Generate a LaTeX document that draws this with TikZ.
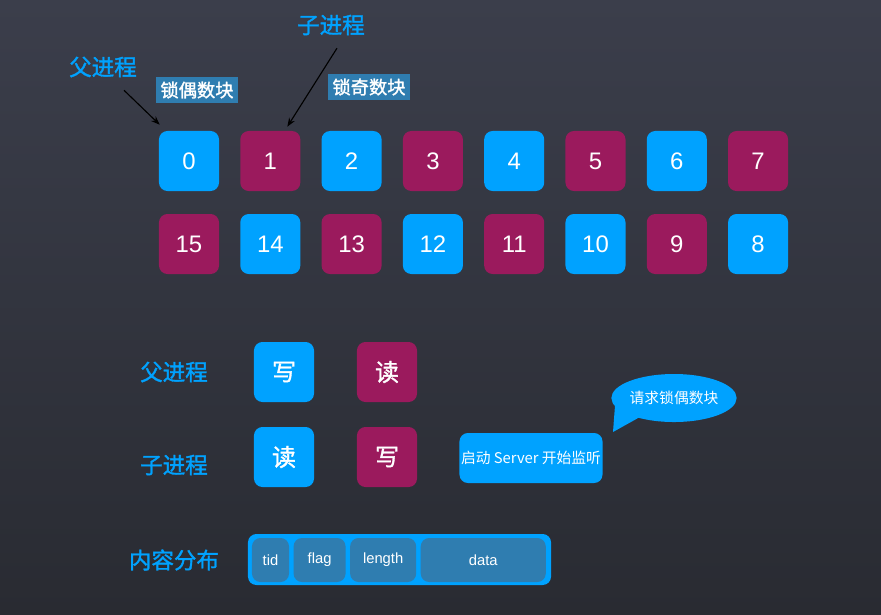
\documentclass[tikz,border=0pt]{standalone}
\usepackage{fontspec}
\setmainfont{Liberation Sans}
\newfontfamily\cjk[AutoFakeBold=1.4]{Noto Sans CJK SC}
\usetikzlibrary{arrows.meta, positioning, shapes.geometric}
\definecolor{evenblue}{RGB}{0,162,255}
\definecolor{oddplum}{RGB}{155,26,93}
\definecolor{tagblue}{RGB}{47,125,176}
\definecolor{bgtop}{RGB}{59,62,75}
\definecolor{bgbottom}{RGB}{41,43,50}

\begin{document}
\begin{tikzpicture}[
		x=0.025cm, y=-0.025cm,
		node distance=0.1cm,
		block/.style={text=white, rounded corners=6pt, inner sep=0pt,
			minimum width=1.5cm, minimum height=1.5cm, font=\fontsize{17}{20}\selectfont},
		even/.style={block, fill=evenblue},
		odd/.style={block, fill=oddplum},
		hanzi/.style={font=\cjk\bfseries\fontsize{17}{20}\selectfont},
		who/.style={text=evenblue, font=\cjk\bfseries\fontsize{16}{19}\selectfont},
		tag/.style={fill=tagblue, text=white, inner sep=3.5pt, font=\cjk\bfseries\fontsize{13}{16}\selectfont},
		field/.style={fill=tagblue, text=white, rounded corners=6pt, inner sep=0pt,
			minimum height=1.1cm, font=\fontsize{10.5}{12}\selectfont},
		pointer/.style={-{Stealth[length=2.2mm]}, thick, draw=black}
	]
		\shade[top color=bgtop, bottom color=bgbottom] (0,0) rectangle (881,614);
		\useasboundingbox (0,0) rectangle (881,614);

		% blocks of the shared buffer
		\foreach \n/\s [count=\k from 0] in {0/even,1/odd,2/even,3/odd,4/even,5/odd,6/even,7/odd}
			\node[\s] (b\n) at ({189+81.3*\k},161) {\n};
		\foreach \n/\s [count=\k from 0] in {15/odd,14/even,13/odd,12/even,11/odd,10/even,9/odd,8/even}
			\node[\s] (b\n) at ({189+81.3*\k},244) {\n};

		\node[who] (parent) at (103,67) {父进程};
		\node[who] (child) at (331,25) {子进程};
		\node[tag] (eventag) at (197,90) {锁偶数块};
		\node[tag] (oddtag) at (369,87) {锁奇数块};
		\draw[pointer] ([shift={(21,8)}]parent.south) -- ([shift={(1,-6)}]b0.north west);
		\draw[pointer] ([shift={(6,8)}]child.south) -- ([shift={(17,-4)}]b1.north);

		% read / write ends of the pipes
		\node[who] (parentrow) at (174,372) {父进程};
		\node[even, hanzi] (pwrite) at (284,372) {写};
		\node[odd, hanzi] (pread) at (387,372) {读};
		\node[who] (childrow) at (174,465) {子进程};
		\node[even, hanzi] (cread) at (284,457) {读};
		\node[odd, hanzi] (cwrite) at (387,457) {写};

		\node[fill=evenblue, text=white, rounded corners=6pt, inner sep=0pt,
			minimum width=3.575cm, minimum height=1.25cm,
			font=\cjk\fontsize{10.5}{13}\selectfont] (server) at (531,458) {启动 Server 开始监听};
		\coordinate (tail) at (613,432);
		\fill[evenblue] (674,398) ++(198:1.55cm and 0.6cm) -- (tail) -- (674,398) ++(222:1.55cm and 0.6cm) -- (674,398) -- cycle;
		\node[ellipse, fill=evenblue, text=white, inner sep=0pt,
			minimum width=3.1cm, minimum height=1.2cm,
			font=\cjk\fontsize{10.5}{13}\selectfont] (bubble) at (674,398) {请求锁偶数块};

		% message layout
		\node[who] (layout) at (174,560) {内容分布};
		\node[fill=evenblue, rounded corners=6pt, minimum width=7.575cm, minimum height=1.275cm] (frame) at (399.5,559.5) {};
		\node[field, minimum width=0.925cm] (tid) at (270.5,560) {tid};
		\node[field, minimum width=1.3cm, right=of tid] (flag) {flag};
		\node[field, minimum width=1.65cm, right=of flag] (length) {length};
		\node[field, minimum width=3.125cm, right=of length] (data) {data};
	\end{tikzpicture}
\end{document}
